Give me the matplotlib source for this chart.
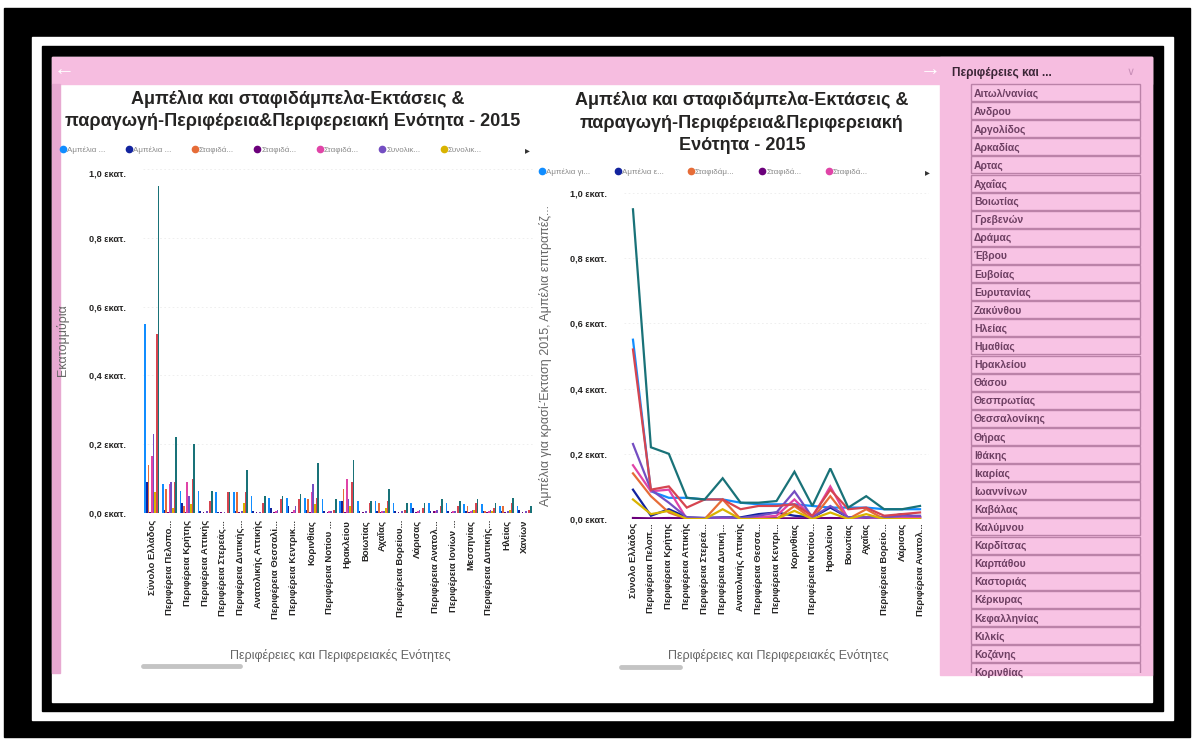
import numpy as np
import matplotlib
matplotlib.use("Agg")
import matplotlib.pyplot as plt
from matplotlib.patches import Rectangle
from matplotlib.lines import Line2D

plt.rcParams["font.family"] = ["Liberation Sans", "DejaVu Sans"]

W, H = 1193, 740

# --- data (millions) ---
bar_labels = ["Σύνολο Ελλάδος", "Περιφέρεια Πελοπο...", "Περιφέρεια Κρήτης", "Περιφέρεια Αττικής",
              "Περιφέρεια Στερεάς...", "Περιφέρεια Δυτικής...", "Ανατολικής Αττικής",
              "Περιφέρεια Θεσσαλί...", "Περιφέρεια Κεντρικ...", "Κορινθίας", "Περιφέρεια Νοτίου ...",
              "Ηρακλείου", "Βοιωτίας", "Αχαΐας", "Περιφέρεια Βορείου...", "Λάρισας",
              "Περιφέρεια Ανατολ...", "Περιφέρεια Ιονίων ...", "Μεσσηνίας", "Περιφέρεια Δυτικής...",
              "Ηλείας", "Χανίων"]
line_labels = ["Σύνολο Ελλάδος", "Περιφέρεια Πελοπ...", "Περιφέρεια Κρήτης", "Περιφέρεια Αττικής",
               "Περιφέρεια Στερεά...", "Περιφέρεια Δυτική...", "Ανατολικής Αττικής",
               "Περιφέρεια Θεσσα...", "Περιφέρεια Κεντρι...", "Κορινθίας", "Περιφέρεια Νοτίου...",
               "Ηρακλείου", "Βοιωτίας", "Αχαΐας", "Περιφέρεια Βορείο...", "Λάρισας",
               "Περιφέρεια Ανατολ..."]

wine_area = [0.55, 0.085, 0.065, 0.065, 0.06, 0.06, 0.05, 0.045, 0.045, 0.045, 0.04, 0.035,
             0.035, 0.035, 0.03, 0.03, 0.03, 0.03, 0.025, 0.025, 0.02, 0.02]
table_area = [0.09, 0.01, 0.03, 0.005, 0.003, 0.005, 0.005, 0.015, 0.02, 0.01, 0.005, 0.035,
              0.005, 0.005, 0.005, 0.015, 0.005, 0.005, 0.005, 0.005, 0.005, 0.01]
raisin_area = [0.14, 0.07, 0.02, 0.0, 0.0, 0.06, 0.0, 0.0, 0.0, 0.04, 0.0, 0.07,
               0.0, 0.03, 0.0, 0.0, 0.0, 0.0, 0.02, 0.005, 0.02, 0.0]
raisin_b = [0.003, 0.002, 0.003, 0.002, 0.002, 0.002, 0.002, 0.002, 0.002, 0.002, 0.002, 0.003,
            0.002, 0.002, 0.002, 0.002, 0.005, 0.002, 0.002, 0.002, 0.002, 0.002]
raisin_c = [0.165, 0.085, 0.09, 0.0, 0.0, 0.0, 0.0, 0.005, 0.01, 0.06, 0.005, 0.10,
            0.0, 0.005, 0.0, 0.005, 0.005, 0.005, 0.005, 0.005, 0.0, 0.0]
total_a = [0.23, 0.09, 0.05, 0.005, 0.003, 0.005, 0.003, 0.01, 0.02, 0.085, 0.005, 0.04,
           0.005, 0.005, 0.005, 0.01, 0.01, 0.005, 0.01, 0.01, 0.005, 0.005]
total_b = [0.06, 0.015, 0.025, 0.0, 0.0, 0.03, 0.0, 0.0, 0.0, 0.025, 0.0, 0.02,
           0.0, 0.015, 0.0, 0.0, 0.0, 0.0, 0.01, 0.005, 0.01, 0.0]
total_c = [0.52, 0.09, 0.10, 0.035, 0.06, 0.06, 0.03, 0.04, 0.04, 0.045, 0.01, 0.09,
           0.03, 0.035, 0.01, 0.015, 0.02, 0.02, 0.03, 0.015, 0.03, 0.01]
total_d = [0.95, 0.22, 0.20, 0.065, 0.06, 0.125, 0.05, 0.05, 0.055, 0.145, 0.04, 0.155,
           0.035, 0.07, 0.03, 0.03, 0.04, 0.035, 0.04, 0.03, 0.045, 0.02]

series = [wine_area, table_area, raisin_area, raisin_b, raisin_c, total_a, total_b, total_c, total_d]
colors = ["#118DFF", "#12239E", "#E66C37", "#6B007B", "#E044A7", "#744EC2", "#D9B300",
          "#D64550", "#197278"]
legend_left = ["Αμπέλια ...", "Αμπέλια ...", "Σταφιδά...", "Σταφιδά...", "Σταφιδά...",
               "Συνολικ...", "Συνολικ..."]
legend_right = ["Αμπέλια γι...", "Αμπέλια ε...", "Σταφιδάμ...", "Σταφιδά...", "Σταφιδά..."]

yticks = [0.0, 0.2, 0.4, 0.6, 0.8, 1.0]
ytick_labels = ["0,0 εκατ.", "0,2 εκατ.", "0,4 εκατ.", "0,6 εκατ.", "0,8 εκατ.", "1,0 εκατ."]

slicer_items = ["Αιτωλ/νανίας", "Ανδρου", "Αργολίδος", "Αρκαδίας", "Αρτας", "Αχαΐας", "Βοιωτίας",
                "Γρεβενών", "Δράμας", "Έβρου", "Ευβοίας", "Ευρυτανίας", "Ζακύνθου", "Ηλείας",
                "Ημαθίας", "Ηρακλείου", "Θάσου", "Θεσπρωτίας", "Θεσσαλονίκης", "Θήρας", "Ιθάκης",
                "Ικαρίας", "Ιωαννίνων", "Καβάλας", "Καλύμνου", "Καρδίτσας", "Καρπάθου",
                "Καστοριάς", "Κέρκυρας", "Κεφαλληνίας", "Κιλκίς", "Κοζάνης", "Κορινθίας"]

PINK = "#f6bde0"


def frac(x0, y0, x1, y1):
    return [x0 / W, 1 - y1 / H, (x1 - x0) / W, (y1 - y0) / H]


fig = plt.figure(figsize=(W / 100, H / 100), dpi=100)
bg = fig.add_axes([0, 0, 1, 1], zorder=0)
bg.axis("off")

# frames
bg.add_patch(Rectangle((4, 8), 1186, 729, color="black"))
bg.add_patch(Rectangle((32, 37), 1141, 683, color="white"))
bg.add_patch(Rectangle((42, 46), 1121, 665, color="black"))
bg.add_patch(Rectangle((52, 57), 1100, 645, color="white"))
bg.add_patch(Rectangle((52, 57), 1100, 27, color=PINK))
bg.add_patch(Rectangle((940, 57), 212, 618, color=PINK))
bg.add_patch(Rectangle((52, 84), 8, 589, color="#e7a9d1"))
grad = np.linspace(1.0, 0.72, 14).reshape(-1, 1)
bg.imshow(grad, extent=(52, 1152, 702, 688), cmap="gray", vmin=0, vmax=1, aspect="auto")
bg.set_xlim(0, W)
bg.set_ylim(H, 0)

bg.text(64, 70, "←", color="white", fontsize=15, ha="center", va="center")
bg.text(930, 70, "→", color="white", fontsize=15, ha="center", va="center")

# titles
title_kw = dict(fontsize=13, fontweight="bold", color="#252423", ha="center", va="center")
bg.text(298, 99, "Αμπέλια και σταφιδάμπελα-Εκτάσεις &", **title_kw)
bg.text(293, 122, "παραγωγή-Περιφέρεια&Περιφερειακή Ενότητα - 2015", **title_kw)
bg.text(742, 100, "Αμπέλια και σταφιδάμπελα-Εκτάσεις &", **title_kw)
bg.text(742, 123, "παραγωγή-Περιφέρεια&Περιφερειακή", **title_kw)
bg.text(742, 146, "Ενότητα - 2015", **title_kw)

axis_kw = dict(fontsize=9, color="#666666", ha="center", va="center")
bg.text(63, 340, "Εκατομμύρια", rotation=90, **axis_kw)
bg.text(546, 355, "Αμπέλια για κρασί-Έκταση 2015, Αμπέλια επιτραπέζ...", rotation=90, **axis_kw)
bg.text(340, 656, "Περιφέρειες και Περιφερειακές Ενότητες", **axis_kw)
bg.text(778, 656, "Περιφέρειες και Περιφερειακές Ενότητες", **axis_kw)

# scrollbars
bg.plot([143, 240], [666, 666], color="#c4c4c4", lw=3.5, solid_capstyle="round")
bg.plot([621, 680], [667, 667], color="#c4c4c4", lw=3.5, solid_capstyle="round")

bg.text(527, 150, "▸", fontsize=7, color="#333333", ha="center", va="center")
bg.text(927, 172, "▸", fontsize=7, color="#333333", ha="center", va="center")

# slicer
bg.text(952, 73, "Περιφέρειες και ...", fontsize=8.5, fontweight="bold", color="#3b2536",
        va="center")
bg.text(1131, 72, "∨", fontsize=8, color="#c98fb8", ha="center", va="center")
clip = Rectangle((940, 57), 212, 616, transform=bg.transData)
for i, name in enumerate(slicer_items):
    top = 84 + i * 18.1
    r = Rectangle((971, top), 169, 17, facecolor="#f8c3e4", edgecolor="#bb82a8", lw=1.0)
    bg.add_patch(r)
    r.set_clip_path(clip)
    t = bg.text(974, top + 9.5, name, fontsize=7.5, fontweight="bold", color="#6e4063",
                va="center")
    t.set_clip_path(clip)


def style_axis(ax, labels, pad):
    ax.set_ylim(0, 1.0)
    ax.set_xlim(-0.5, len(labels) - 0.5)
    ax.set_yticks(yticks, ytick_labels, fontsize=6.6, fontweight="bold", color="#252423")
    ax.set_xticks(range(len(labels)), labels, rotation=90, fontsize=6.8, fontweight="bold",
                  color="#252423")
    ax.tick_params(axis="both", length=0)
    ax.tick_params(axis="y", pad=12)
    ax.tick_params(axis="x", pad=pad)
    ax.grid(axis="y", color="#ececec", lw=0.6, ls=(0, (2, 3)))
    ax.set_axisbelow(True)
    for s in ax.spines.values():
        s.set_visible(False)
    ax.patch.set_alpha(0)


# left: clustered bars
ax1 = fig.add_axes(frac(143, 169, 533, 513), zorder=2)
x = np.arange(len(bar_labels))
bw = 0.85 / len(series)
for k, (vals, c) in enumerate(zip(series, colors)):
    ax1.bar(x - 0.425 + bw * (k + 0.5), vals, width=bw, color=c, linewidth=0)
style_axis(ax1, bar_labels, 5)
ax1.get_yticklabels()[-1].set_va("top")
handles = [Line2D([], [], marker="o", ls="none", color=c, markersize=4.5) for c in colors[:7]]
ax1.legend(handles, legend_left, ncol=7, loc="center left", bbox_to_anchor=(60, 150),
           bbox_transform=bg.transData, frameon=False, fontsize=5.8, labelcolor="#8a8a8a",
           handletextpad=0.1, columnspacing=2.5, handlelength=0.8, borderaxespad=0, borderpad=0)

# right: lines
ax2 = fig.add_axes(frac(624, 193, 929, 519), zorder=2)
n = len(line_labels)
xl = np.arange(n)
for vals, c in zip(series, colors):
    ax2.plot(xl, vals[:n], color=c, lw=1.6, solid_joinstyle="miter")
style_axis(ax2, line_labels, 3)
ax2.legend(handles[:5], legend_right, ncol=5, loc="center left", bbox_to_anchor=(539, 172),
           bbox_transform=bg.transData, frameon=False, fontsize=5.8, labelcolor="#8a8a8a",
           handletextpad=0.1, columnspacing=3.0, handlelength=0.8, borderaxespad=0, borderpad=0)

fig.savefig("out.png", dpi=100)
